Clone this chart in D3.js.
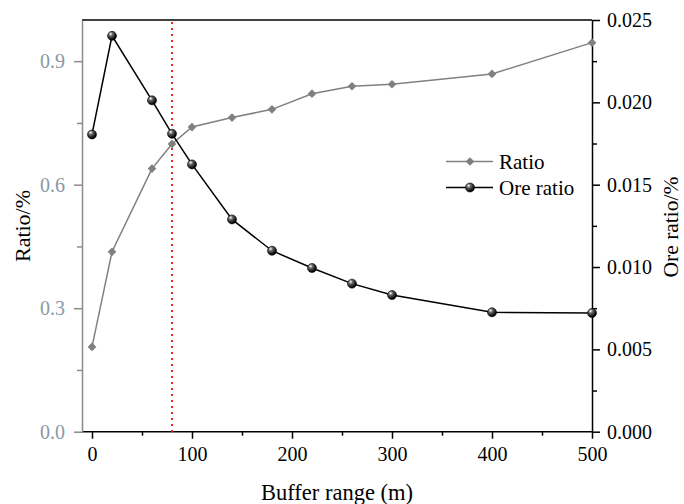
<!DOCTYPE html>
<html><head><meta charset="utf-8">
<script src="https://cdn.jsdelivr.net/npm/d3@7/dist/d3.min.js"></script>
<style>body{margin:0;background:#fff}svg{display:block}
svg text{font-family:"Liberation Serif","Times New Roman",Times,"DejaVu Serif",serif;}
</style>
</head><body>
<script>
const buffer = [0, 20, 60, 80, 100, 140, 180, 220, 260, 300, 400, 500];
const ratio = [0.206, 0.437, 0.639, 0.699, 0.740, 0.763, 0.783, 0.821, 0.839, 0.844, 0.869, 0.945];
const oreRatio = [0.01805, 0.02404, 0.02012, 0.01809, 0.01623, 0.01289, 0.01099, 0.00994, 0.00899, 0.00830, 0.00725, 0.00721];
const xTicks = [0, 100, 200, 300, 400, 500];
const leftTicks = [0, 0.3, 0.6, 0.9];
const rightTicks = [0, 0.005, 0.010, 0.015, 0.020, 0.025];
const cutoff = 80;

const W = 684, H = 504;
const L = 82, R = 592, T = 20, B = 431.7;
const svg = d3.select("body").append("svg").attr("width", W).attr("height", H);

const x = d3.scaleLinear().domain([-10, 500]).range([L, R]);
const yL = d3.scaleLinear().domain([0, 1.0]).range([B, T]);
const yR = d3.scaleLinear().domain([0, 0.025]).range([B, T]);

const defs = svg.append("defs");
const g = defs.append("radialGradient").attr("id", "ball").attr("cx", "35%").attr("cy", "30%").attr("r", "65%");
g.append("stop").attr("offset", "0%").attr("stop-color", "#ffffff");
g.append("stop").attr("offset", "35%").attr("stop-color", "#666");
g.append("stop").attr("offset", "100%").attr("stop-color", "#000");

// top border
svg.append("line").attr("x1", L).attr("x2", R).attr("y1", T).attr("y2", T).attr("stroke", "#000").attr("stroke-width", 1.5);

function styleText(sel, fill) {
  sel.selectAll("text").attr("font-family", null).attr("font-size", null)
    .style("font-size", "20px").attr("fill", fill);
}

// bottom axis
const xAx = svg.append("g").attr("transform", `translate(0,${B})`)
  .call(d3.axisBottom(x).tickValues(xTicks).tickSize(7).tickSizeOuter(0).tickPadding(8).tickFormat(d3.format("d")));
xAx.attr("font-family", null).attr("font-size", null);
xAx.select(".domain").attr("stroke", "#000").attr("stroke-width", 1.5).attr("d", `M${L},0H${R}`);
xAx.selectAll(".tick line").attr("stroke", "#000").attr("stroke-width", 1.5);
styleText(xAx, "#000");
svg.append("g").attr("transform", `translate(0,${B})`)
  .call(d3.axisBottom(x).tickValues([50,150,250,350,450]).tickSize(4).tickFormat(""))
  .call(a => a.select(".domain").remove())
  .selectAll("line").attr("stroke", "#000").attr("stroke-width", 1.5);

// left axis
const lAx = svg.append("g").attr("transform", `translate(${L},0)`)
  .call(d3.axisLeft(yL).tickValues(leftTicks).tickSize(8).tickSizeOuter(0).tickPadding(9).tickFormat(d3.format(".1f")));
lAx.attr("font-family", null).attr("font-size", null);
lAx.select(".domain").attr("stroke", "#8a8a8a").attr("stroke-width", 1.5);
lAx.selectAll(".tick line").attr("stroke", "#8a8a8a").attr("stroke-width", 1.5);
styleText(lAx, "#8a98a6");
svg.append("g").attr("transform", `translate(${L},0)`)
  .call(d3.axisLeft(yL).tickValues([0.15,0.45,0.75]).tickSize(5).tickFormat(""))
  .call(a => a.select(".domain").remove())
  .selectAll("line").attr("stroke", "#8a8a8a").attr("stroke-width", 1.5);

// right axis
const rAx = svg.append("g").attr("transform", `translate(${R},0)`)
  .call(d3.axisRight(yR).tickValues(rightTicks).tickSize(8).tickSizeOuter(0).tickPadding(7).tickFormat(d3.format(".3f")));
rAx.attr("font-family", null).attr("font-size", null);
rAx.select(".domain").attr("stroke", "#000").attr("stroke-width", 1.5);
rAx.selectAll(".tick line").attr("stroke", "#000").attr("stroke-width", 1.5);
styleText(rAx, "#000");
svg.append("g").attr("transform", `translate(${R},0)`)
  .call(d3.axisRight(yR).tickValues([0.0025,0.0075,0.0125,0.0175,0.0225]).tickSize(5).tickFormat(""))
  .call(a => a.select(".domain").remove())
  .selectAll("line").attr("stroke", "#000").attr("stroke-width", 1.5);

// cutoff line
svg.append("line").attr("x1", x(cutoff)).attr("x2", x(cutoff)).attr("y1", T + 2).attr("y2", B)
  .attr("stroke", "#ff2020").attr("stroke-width", 2).attr("stroke-dasharray", "2,4");

// Ratio series
const d1 = buffer.map((b, i) => [b, ratio[i]]);
svg.append("path").datum(d1)
  .attr("d", d3.line().x(d => x(d[0])).y(d => yL(d[1])))
  .attr("fill", "none").attr("stroke", "#808080").attr("stroke-width", 1.5);
const diamond = d3.symbol().type(d3.symbolDiamond2).size(48);
svg.selectAll(".dm").data(d1).join("path")
  .attr("transform", d => `translate(${x(d[0])},${yL(d[1])})`)
  .attr("d", diamond).attr("fill", "#808080");

// Ore ratio series
const d2 = buffer.map((b, i) => [b, oreRatio[i]]);
svg.append("path").datum(d2)
  .attr("d", d3.line().x(d => x(d[0])).y(d => yR(d[1])))
  .attr("fill", "none").attr("stroke", "#000").attr("stroke-width", 1.5);
svg.selectAll(".bl").data(d2).join("circle")
  .attr("cx", d => x(d[0])).attr("cy", d => yR(d[1])).attr("r", 4.5)
  .attr("fill", "url(#ball)").attr("stroke", "#000").attr("stroke-width", 0.6);

// legend
const lg = svg.append("g");
lg.append("line").attr("x1", 446).attr("x2", 493).attr("y1", 161.5).attr("y2", 161.5).attr("stroke", "#808080").attr("stroke-width", 1.5);
lg.append("path").attr("transform", "translate(470,161.5)").attr("d", diamond).attr("fill", "#808080");
lg.append("text").attr("x", 499).attr("y", 168.5).text("Ratio").style("font-size", "21px").attr("fill", "#000");
lg.append("line").attr("x1", 446).attr("x2", 493).attr("y1", 187.5).attr("y2", 187.5).attr("stroke", "#000").attr("stroke-width", 1.5);
lg.append("circle").attr("cx", 470).attr("cy", 187.5).attr("r", 4.5).attr("fill", "url(#ball)").attr("stroke", "#000").attr("stroke-width", 0.6);
lg.append("text").attr("x", 499).attr("y", 194.5).text("Ore ratio").style("font-size", "21px").attr("fill", "#000");

// axis titles
svg.append("text").attr("x", 337).attr("y", 500).attr("text-anchor", "middle")
  .style("font-size", "22.5px").text("Buffer range (m)");
svg.append("text").attr("transform", "translate(30,226) rotate(-90)").attr("text-anchor", "middle")
  .style("font-size", "22px").text("Ratio/%");
svg.append("text").attr("transform", "translate(678,227) rotate(-90)").attr("text-anchor", "middle")
  .style("font-size", "21.5px").text("Ore ratio/%");
</script>
</body></html>
